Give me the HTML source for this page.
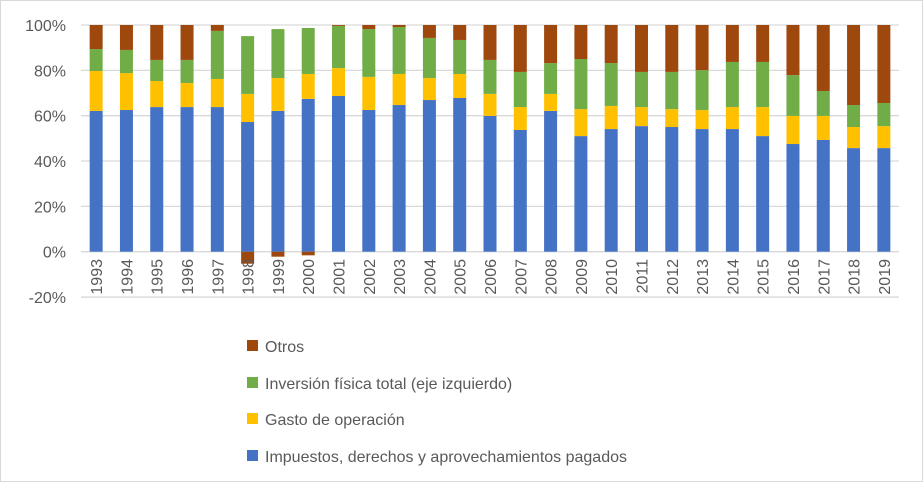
<!DOCTYPE html>
<html><head><meta charset="utf-8"><style>
body{margin:0;background:#fff;font-family:"Liberation Sans",sans-serif}
#wrap{position:relative;width:921px;height:480px;border:1px solid #d9d9d9;overflow:hidden}
svg text{font-family:"Liberation Sans",sans-serif;fill:#595959}
</style></head><body>
<div id="wrap">
<svg id="chart" width="921" height="480"></svg>
</div>
<script>
const years=[1993,1994,1995,1996,1997,1998,1999,2000,2001,2002,2003,2004,2005,2006,2007,2008,2009,2010,2011,2012,2013,2014,2015,2016,2017,2018,2019];
const impuestos=[62.1,62.5,63.8,63.8,63.8,57.2,62.1,67.4,68.7,62.5,64.7,66.9,67.8,59.9,53.7,62.1,51,54.1,55.4,55,54.1,54.1,51,47.5,49.3,45.7,45.7];
const gasto=[17.6,16.3,11.5,10.6,12.4,12.4,14.5,11,12.3,14.6,13.7,9.7,10.6,9.7,10.1,7.5,11.9,10.2,8.4,7.9,8.4,9.7,12.8,12.4,10.6,9.3,9.7];
const inversion=[9.7,10.2,9.3,10.2,21.2,25.5,21.6,20.3,18.6,21.1,20.7,17.7,15,15,15.5,13.6,22.1,18.9,15.5,16.4,17.6,19.9,19.9,18,11,9.7,10.2];
const otros=[10.6,11,15.4,15.4,2.6,-5.3,-2.2,-1.6,0.4,1.8,0.9,5.7,6.6,15.4,20.7,16.8,15,16.8,20.7,20.7,19.9,16.3,16.3,22.1,29.1,35.3,34.4];
const ticks=[-20,0,20,40,60,80,100];
const seriesNames=["Impuestos, derechos y aprovechamientos pagados","Gasto de operación","Inversión física total (eje izquierdo)","Otros"];
const colors=["#4472c4","#ffc000","#70ad47","#9e480e"];
const svg=document.getElementById('chart');const NS="http://www.w3.org/2000/svg";
function mk(t,a){const e=document.createElementNS(NS,t);for(const k in a)e.setAttribute(k,a[k]);svg.appendChild(e);return e;}
const x0=80,x1=898,y0=250.7,pp=2.267;
const bw=(x1-x0)/years.length;
const xc=i=>x0+bw*(i+0.5);
const y=v=>y0-v*pp;
ticks.forEach(t=>{
 const l=mk('line',{x1:x0,x2:x1,y1:y(t),y2:y(t),stroke:'#d9d9d9','stroke-width':1.3});
 
 
 const tx=mk('text',{x:65,y:y(t)+6,'text-anchor':'end','font-size':16});
 tx.textContent=t+'%';
 
 
});
const series=[impuestos,gasto,inversion,otros];
years.forEach((yr,i)=>{
 let pos=0,neg=0;
 series.forEach((s,k)=>{
  const v=s[i];let top,bot;
  if(v>=0){bot=pos;top=pos+v;pos=top;}else{top=neg;bot=neg+v;neg=bot;}
  const r=mk('rect',{x:xc(i)-6.5,y:y(top),width:13,height:Math.max(0,y(bot)-y(top)),fill:colors[k]});
  
  
 });
 const t=mk('text',{x:0,y:0,'text-anchor':'end','font-size':16,transform:`translate(${xc(i)+6},258) rotate(-90)`});
 t.textContent=yr;
 
 
});
const legY=[455,418,382,345];
seriesNames.forEach((n,k)=>{
 const r=mk('rect',{x:246,y:legY[k]-6,width:11,height:11,fill:colors[k]});
 
 
 const t=mk('text',{x:264,y:legY[k]+6,'font-size':16});
 t.textContent=n;
 
 
});
</script>
</body></html>
